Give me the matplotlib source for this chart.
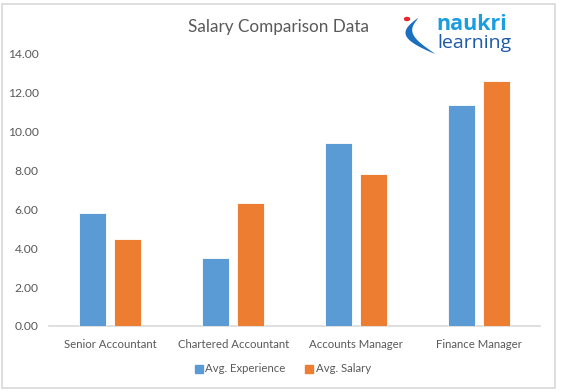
import matplotlib
matplotlib.use("Agg")
import matplotlib.pyplot as plt
import numpy as np
from matplotlib.patches import Rectangle, Circle, Polygon
from matplotlib.lines import Line2D

categories = ["Senior Accountant", "Chartered Accountant", "Accounts Manager", "Finance Manager"]
avg_experience = [5.80, 3.52, 9.40, 11.37]
avg_salary = [4.46, 6.35, 7.80, 12.60]
yticks = [0, 2, 4, 6, 8, 10, 12, 14]
series_names = ["Avg. Experience", "Avg. Salary"]

blue = "#5b9bd5"
orange = "#ed7d31"
txt = "#595959"
font = "Lato"

W, H = 561, 392
fig = plt.figure(figsize=(W/100, H/100), dpi=100)
ax = fig.add_axes([49/W, 1-326/H, (540-49)/W, (326-54)/H])

x = np.arange(len(categories))
bw = 0.22
off = 0.143
ax.bar(x - off, avg_experience, bw, color=blue, edgecolor="white", linewidth=0.6, zorder=3)
ax.bar(x + off, avg_salary, bw, color=orange, edgecolor="white", linewidth=0.6, zorder=3)

ax.set_xlim(-0.5, 3.5)
ax.set_ylim(0, 14)
ax.set_yticks(yticks)
ax.set_yticklabels([f"{v:.2f}" for v in yticks], fontsize=8.7, color=txt, family=font)
ax.set_xticks(x)
ax.set_xticklabels(categories, fontsize=8.2, color=txt, family=font)
ax.tick_params(length=0)
ax.tick_params(axis="x", pad=9)
ax.tick_params(axis="y", pad=7.5)
for s in ["top", "right", "left"]:
    ax.spines[s].set_visible(False)
ax.spines["bottom"].set_color("#d9d9d9")
ax.spines["bottom"].set_linewidth(1.2)

fig.text(278/W, 1-27/H, "Salary Comparison Data", ha="center", va="center",
         fontsize=12.3, color=txt, family=font)

# legend
handles = [Line2D([], [], marker="s", linestyle="none", markersize=5.5, color=blue),
           Line2D([], [], marker="s", linestyle="none", markersize=5.5, color=orange)]
leg = fig.legend(handles, series_names, loc="center", bbox_to_anchor=(282/W, 1-369/H),
                 ncol=2, frameon=False, fontsize=8.2, handletextpad=0.05, columnspacing=1.6,
                 handlelength=1.0)
for t in leg.get_texts():
    t.set_color(txt)
    t.set_family(font)

# outer border
fig.patches.append(Rectangle((2/W, 1-388/H), (555-2)/W, (388-4)/H, transform=fig.transFigure,
                             fill=False, edgecolor="#d9d9d9", linewidth=1.2))

# logo
fig.text(436/W, 1-30/H, "naukri", ha="left", va="baseline", fontsize=15.5, fontweight="bold",
         color="#1b9ee0", family="Open Sans")
fig.text(437/W, 1-48/H, "learning", ha="left", va="baseline", fontsize=14,
         color="#1d5aa8", family="Open Sans")
t = np.linspace(0, 1, 60)
outer = [(418 - 16*np.sin(np.pi*u) + 17*u**2, 18 + 36*u) for u in t]
inner = [(418 - 16*np.sin(np.pi*u) + 17*u**2 + 7*np.sin(np.pi*u)**0.8, 18 + 36*u - 1.5*np.sin(np.pi*u)) for u in t[::-1]]
pts = [((px)/W, 1-py/H) for px, py in outer + inner]
fig.patches.append(Polygon(pts, closed=True, transform=fig.transFigure,
                           facecolor="#1a6fc0", edgecolor="none"))
fig.patches.append(Circle((407/W, 1-19/H), 3.2/W, transform=fig.transFigure,
                          facecolor="#e8262b", edgecolor="none"))

fig.savefig("out.png", dpi=100)
